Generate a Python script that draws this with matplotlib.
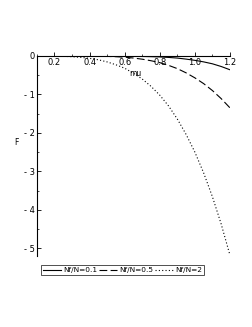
import numpy as np
import matplotlib.pyplot as plt

mu = [0.10, 0.15, 0.20, 0.25, 0.30, 0.35, 0.40, 0.45, 0.50, 0.55, 0.60, 0.65,
      0.70, 0.75, 0.80, 0.85, 0.90, 0.95, 1.00, 1.05, 1.10, 1.15, 1.20]
# Nf/N = 0.1
f_01 = [0.0, 0.0, 0.0, 0.0, 0.0, 0.0, -0.001, -0.002, -0.003, -0.005, -0.007,
        -0.01, -0.014, -0.019, -0.026, -0.039, -0.056, -0.083, -0.115, -0.155,
        -0.205, -0.275, -0.36]
# Nf/N = 0.5
f_05 = [0.0, 0.0, 0.0, -0.001, -0.002, -0.003, -0.005, -0.008, -0.012, -0.02,
        -0.033, -0.055, -0.085, -0.125, -0.175, -0.245, -0.33, -0.44, -0.57,
        -0.72, -0.9, -1.11, -1.35]
# Nf/N = 2
f_2 = [-0.0003, -0.001, -0.004, -0.01, -0.02, -0.037, -0.064, -0.10, -0.156,
       -0.23, -0.32, -0.45, -0.60, -0.79, -1.02, -1.30, -1.64, -2.04, -2.5,
       -3.04, -3.66, -4.37, -5.18]

x_ticks = [0.2, 0.4, 0.6, 0.8, 1.0, 1.2]
y_ticks = [0, -1, -2, -3, -4, -5]

fig = plt.figure(figsize=(2.53, 3.27), dpi=100)
ax = fig.add_axes([0.146, 0.217, 0.763, 0.612])

ax.plot(mu, f_01, color="black", lw=0.8, ls="-", label="Nf/N=0.1")
ax.plot(mu, f_05, color="black", lw=0.8, ls=(0, (7, 3)), label="Nf/N=0.5")
ax.plot(mu, f_2, color="black", lw=0.8, ls=(0, (1, 2)), label="Nf/N=2")

ax.set_xlim(0.1, 1.2)
ax.set_ylim(-5.2, 0)
ax.spines["bottom"].set_position(("data", 0))
ax.spines["top"].set_visible(False)
ax.spines["right"].set_visible(False)
for s in ("left", "bottom"):
    ax.spines[s].set_linewidth(0.8)

ax.set_xticks(x_ticks)
ax.set_xticklabels(["0.2", "0.4", "0.6", "0.8", "1.0", "1.2"])
ax.set_xticks(np.arange(0.1, 1.21, 0.1), minor=True)
ax.set_yticks(y_ticks)
ax.set_yticklabels(["0", "- 1", "- 2", "- 3", "- 4", "- 5"])
ax.set_yticks(np.arange(-5, 0.01, 0.5), minor=True)
ax.tick_params(which="major", direction="in", length=3, width=0.6,
               labelsize=6, pad=1.5)
ax.tick_params(which="minor", direction="in", length=1.5, width=0.5)

ax.text(0.66, -0.46, "mu", fontsize=5.5, ha="center", va="center")
ax.text(-0.015, -2.25, "F", fontsize=5.5, ha="center", va="center")

fig.legend(loc="center", bbox_to_anchor=(0.485, 0.174), ncol=3, fontsize=5.3,
           frameon=True, fancybox=False, edgecolor="black", handlelength=2.4,
           handletextpad=0.3, columnspacing=0.3, borderpad=0.25,
           borderaxespad=0).get_frame().set_linewidth(0.6)

fig.savefig("out.png", dpi=100)
